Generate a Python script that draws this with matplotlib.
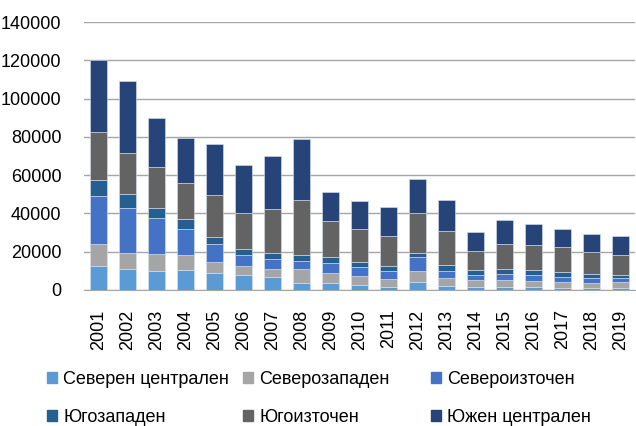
import matplotlib.pyplot as plt
import matplotlib.patches as mpatches
import numpy as np

plt.rcParams['font.family'] = ['Liberation Sans', 'DejaVu Sans']

years = [str(y) for y in range(2001, 2020)]
regions = ['Северен централен', 'Северозападен', 'Североизточен',
           'Югозападен', 'Югоизточен', 'Южен централен']
colors = ['#5B9BD5', '#A5A5A5', '#4472C4', '#255E91', '#636363', '#264478']

sev_centr = [12700, 10800, 10100, 10400, 9000, 7650, 6800, 3800, 3500, 2800,
             1750, 4200, 2100, 1550, 1550, 1400, 1200, 1200, 1200]
sev_zap = [11100, 8700, 8700, 7800, 5600, 4900, 4150, 7000, 5200, 4500,
           4000, 5900, 4000, 3500, 3850, 3100, 2800, 2450, 2800]
sev_izt = [25200, 23500, 18600, 13900, 9400, 5550, 5200, 4350, 5400, 4550,
           4000, 7300, 3650, 2600, 2950, 3150, 2600, 2450, 2100]
yugozap = [8350, 7100, 5600, 5200, 3500, 3100, 2950, 2950, 3300, 2950,
           2950, 1750, 3500, 2600, 2600, 2800, 2950, 2400, 1900]
yugoizt = [25000, 21700, 21200, 18800, 21900, 19000, 23000, 28900, 18400, 16900,
           15300, 20900, 17400, 10250, 13200, 12850, 13050, 11500, 10250]
yuzhen_centr = [37600, 37600, 25400, 23100, 27100, 24900, 28000, 31750, 15500, 14800,
                15300, 17700, 16200, 9750, 12200, 11150, 9400, 9200, 9750]

series = [sev_centr, sev_zap, sev_izt, yugozap, yugoizt, yuzhen_centr]

fig = plt.figure(figsize=(6.36, 4.26), dpi=100)
ax = fig.add_axes([83.8 / 636, 136 / 426, 551 / 636, 268 / 426])

x = np.arange(len(years))
bottom = np.zeros(len(years))
for vals, col, name in zip(series, colors, regions):
    ax.bar(x, vals, 0.575, bottom=bottom, color=col, label=name,
           edgecolor='#d9e2f0', linewidth=0.4, zorder=3)
    bottom += np.array(vals)

ax.set_xlim(-0.5, len(years) - 0.5)
ax.set_ylim(0, 140000)
ax.set_yticks(range(0, 140001, 20000))
ax.set_xticks(x)
ax.set_xticklabels(years, rotation=90)
ax.grid(axis='y', color='#a6a6a6', linewidth=1.0, zorder=0)
for s in ['top', 'right', 'left']:
    ax.spines[s].set_visible(False)
ax.spines['bottom'].set_color('#a6a6a6')
ax.tick_params(length=0, labelsize=13, colors='black')
ax.tick_params(axis='y', pad=16)
ax.tick_params(axis='x', pad=14)

# legend: three fixed-width columns, two rows
col_x = [47, 243, 431]
for c in range(3):
    idx = [c, c + 3]
    handles = [mpatches.Patch(color=colors[i]) for i in idx]
    fig.legend(handles, [regions[i] for i in idx], loc='center left',
               bbox_to_anchor=(col_x[c] / 636, 1 - 398.5 / 426),
               frameon=False, fontsize=13, handlelength=0.55, handleheight=0.55,
               handletextpad=0.35, borderpad=0, borderaxespad=0, labelspacing=1.15)

fig.savefig('out.png', dpi=100)
